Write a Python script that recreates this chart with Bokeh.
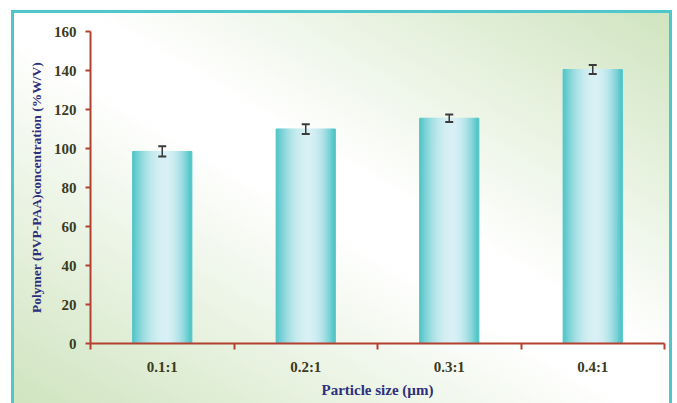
import numpy as np
from bokeh.plotting import figure
from bokeh.models import ColumnDataSource, FixedTicker, Range1d, Whisker, TeeHead
from bokeh.embed import file_html
from bokeh.resources import INLINE

# ---- data ----
categories = ["0.1:1", "0.2:1", "0.3:1", "0.4:1"]
values = [98.5, 110.0, 115.5, 140.5]
errors = [2.6, 2.5, 1.9, 2.3]
y_ticks = [0, 20, 40, 60, 80, 100, 120, 140, 160]

centers = [i + 0.5 for i in range(len(categories))]
bounds = list(range(len(categories) + 1))

AXIS_COL = "#b3402f"
TICK_TXT = "#3b3b1e"
TITLE_TXT = "#2c2f7c"
FONT = "Liberation Serif"

p = figure(width=661, height=393,
           x_range=Range1d(0, len(categories)), y_range=Range1d(0, 160),
           output_backend="svg", toolbar_location=None,
           min_border_left=79, min_border_right=8,
           min_border_top=21, min_border_bottom=60)
p.styles = {
    "margin-left": "11px",
    "margin-top": "10px",
    "background-image": "linear-gradient(to top right, #cfe4bf 0%, #ffffff 47%, #ffffff 55%, #cfe4bf 100%)",
    "box-shadow": "inset 3px 0 0 0 #4fc6c9, inset -3px 0 0 0 #4fc6c9, inset 0 3px 0 0 #4fc6c9",
}
p.background_fill_color = None
p.border_fill_color = None
p.outline_line_color = None
p.xgrid.visible = False
p.ygrid.visible = False

# ---- bars drawn as vertical strips to mimic the cylindrical shading ----
bar_w = 0.41
n_strips = 36
teal = np.array([74, 195, 198])
light = np.array([216, 240, 245])
xs, tops, cols, ws = [], [], [], []
sw = bar_w / n_strips
for c, v in zip(centers, values):
    for k in range(n_strips):
        t = (k + 0.5) / n_strips
        peak = 0.56
        if t < peak:
            d = (peak - t) / peak
        else:
            d = (t - peak) / (1 - peak)
        l = max(0.0, 1 - d ** 2.0)
        rgb = teal + l * (light - teal)
        xs.append(c - bar_w / 2 + (k + 0.5) * sw)
        tops.append(v)
        cols.append("#%02x%02x%02x" % tuple(int(round(q)) for q in rgb))
        ws.append(sw * 1.25)
strip_src = ColumnDataSource(dict(x=xs, top=tops, color=cols, w=ws))
p.vbar(x="x", top="top", bottom=0, width="w", color="color", source=strip_src)

# ---- error bars ----
err_src = ColumnDataSource(dict(
    x=centers,
    upper=[v + e for v, e in zip(values, errors)],
    lower=[v - e for v, e in zip(values, errors)],
))
wh = Whisker(base="x", upper="upper", lower="lower", source=err_src,
             line_color="#3a3a3a", line_width=1.5, level="overlay",
             upper_head=TeeHead(size=8, line_color="#3a3a3a", line_width=2),
             lower_head=TeeHead(size=8, line_color="#3a3a3a", line_width=2))
p.add_layout(wh)

# ---- axes ----
xa = p.xaxis[0]
xa.ticker = FixedTicker(ticks=centers, minor_ticks=bounds)
xa.major_label_overrides = {c: lab for c, lab in zip(centers, categories)}
xa.major_tick_line_color = None
xa.minor_tick_line_color = AXIS_COL
xa.minor_tick_line_width = 2
xa.minor_tick_in = 0
xa.minor_tick_out = 6
xa.axis_line_color = AXIS_COL
xa.axis_line_width = 2
xa.major_label_text_font = FONT
xa.major_label_text_font_style = "bold"
xa.major_label_text_font_size = "15px"
xa.major_label_text_color = TICK_TXT
xa.major_label_standoff = 9
xa.axis_label = "Particle size (µm)"
xa.axis_label_text_font = FONT
xa.axis_label_text_font_style = "bold"
xa.axis_label_text_font_size = "15px"
xa.axis_label_text_color = TITLE_TXT
xa.axis_label_standoff = 4

ya = p.yaxis[0]
ya.ticker = FixedTicker(ticks=y_ticks)
ya.minor_tick_line_color = None
ya.major_tick_line_color = AXIS_COL
ya.major_tick_line_width = 2
ya.major_tick_in = 0
ya.major_tick_out = 5
ya.axis_line_color = AXIS_COL
ya.axis_line_width = 2
ya.major_label_text_font = FONT
ya.major_label_text_font_style = "bold"
ya.major_label_text_font_size = "15px"
ya.major_label_text_color = TICK_TXT
ya.major_label_standoff = 9
ya.axis_label = "Polymer (PVP-PAA)concentration (%W/V)"
ya.axis_label_text_font = FONT
ya.axis_label_text_font_style = "bold"
ya.axis_label_text_font_size = "13.5px"
ya.axis_label_text_color = TITLE_TXT
ya.axis_label_standoff = 7

open("out.html", "w").write(file_html(p, INLINE))
